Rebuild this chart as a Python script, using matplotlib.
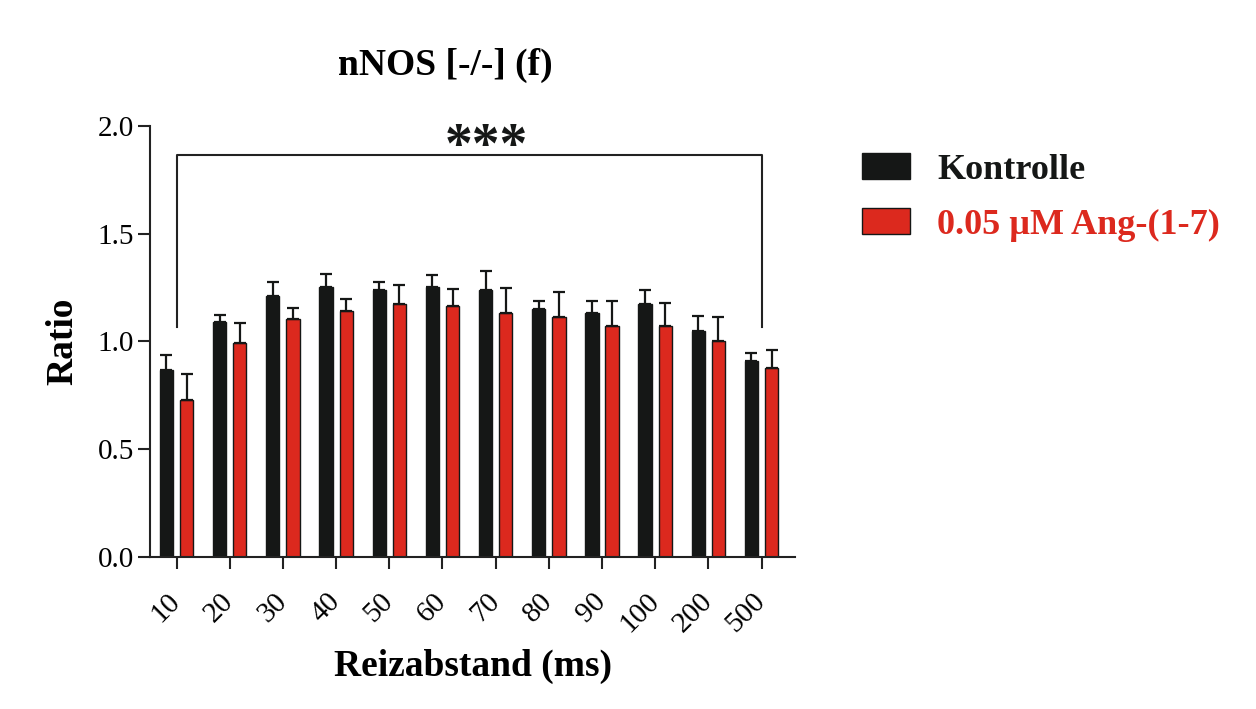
import matplotlib
matplotlib.use('Agg')
import matplotlib.pyplot as plt
import matplotlib.transforms as mtransforms
from matplotlib.patches import Patch
import numpy as np

plt.rcParams['font.family'] = ['Liberation Serif', 'DejaVu Serif']

# data
intervals = ['10', '20', '30', '40', '50', '60', '70', '80', '90', '100', '200', '500']
kontrolle = [0.87, 1.09, 1.21, 1.255, 1.24, 1.255, 1.24, 1.15, 1.13, 1.175, 1.05, 0.91]
kontrolle_sem = [0.065, 0.035, 0.065, 0.06, 0.035, 0.055, 0.085, 0.04, 0.06, 0.065, 0.07, 0.035]
ang = [0.73, 0.995, 1.105, 1.14, 1.175, 1.165, 1.13, 1.115, 1.07, 1.07, 1.0, 0.875]
ang_sem = [0.12, 0.09, 0.05, 0.055, 0.085, 0.08, 0.12, 0.115, 0.12, 0.11, 0.115, 0.085]

black = '#151716'
red = '#dc291e'

fig = plt.figure(figsize=(12.56, 7.09), dpi=100)
ax = fig.add_axes([0.1194, 0.2144, 0.5136, 0.6079])

x = np.arange(len(intervals))
w = 0.25
off = 0.19
ekw = dict(ecolor=black, elinewidth=1.6, capsize=4, capthick=1.6)
ax.bar(x - off, kontrolle, w, color=black, edgecolor=black, linewidth=1,
       yerr=[np.zeros(len(x)), kontrolle_sem], error_kw=ekw)
ax.bar(x + off, ang, w, color=red, edgecolor=black, linewidth=1,
       yerr=[np.zeros(len(x)), ang_sem], error_kw=ekw)

ax.set_xlim(-0.5, len(x) - 1 + 0.63)
ax.set_ylim(0, 2.0)
ax.set_yticks([0.0, 0.5, 1.0, 1.5, 2.0])
ax.set_yticklabels(['0.0', '0.5', '1.0', '1.5', '2.0'])
ax.set_xticks(x)
ax.set_xticklabels(intervals, rotation=45, ha='right', va='top')

for s in ['top', 'right']:
    ax.spines[s].set_visible(False)
for s in ['left', 'bottom']:
    ax.spines[s].set_linewidth(1.5)
    ax.spines[s].set_color('#222222')
ax.tick_params(axis='both', direction='out', width=1.5, length=8.6, labelsize=21,
               color='#222222')
ax.tick_params(axis='x', pad=14)
ax.tick_params(axis='y', pad=3)

# nudge rotated labels to the right (after tick_params, which resets transforms)
shift = mtransforms.ScaledTranslation(9 / 100, 0, fig.dpi_scale_trans)
for lab in ax.get_xticklabels():
    lab.set_transform(lab.get_transform() + shift)

ax.set_ylabel('Ratio', fontsize=27, fontweight='bold', labelpad=12)
ax.set_xlabel('Reizabstand (ms)', fontsize=27, fontweight='bold', labelpad=8)
fig.text(445 / 1256, 1 - 65 / 709, 'nNOS [-/-] (f)', fontsize=27,
         fontweight='bold', ha='center', va='center')

# significance bracket
yb = 1.865
ax.plot([0, 0, 11, 11], [1.065, yb, yb, 1.065], color='#222222', lw=1.5,
        clip_on=False)
ax.text(5.82, yb - 0.09, '***', fontsize=40, fontweight='bold', ha='center',
        va='bottom', color=black)

handles = [Patch(facecolor=black, edgecolor=black, linewidth=1),
           Patch(facecolor=red, edgecolor=black, linewidth=1)]
leg = fig.legend(handles, ['Kontrolle', '0.05 µM Ang-(1-7)'],
                 loc='upper left', bbox_to_anchor=(862 / 1256, 1 - 153 / 709),
                 frameon=False, borderpad=0, borderaxespad=0,
                 handlelength=1.33, handleheight=0.75, handletextpad=0.75,
                 labelspacing=0.58, prop=dict(size=26, weight='bold'))
for t, c in zip(leg.get_texts(), [black, red]):
    t.set_color(c)

fig.savefig('out.png', dpi=100)
